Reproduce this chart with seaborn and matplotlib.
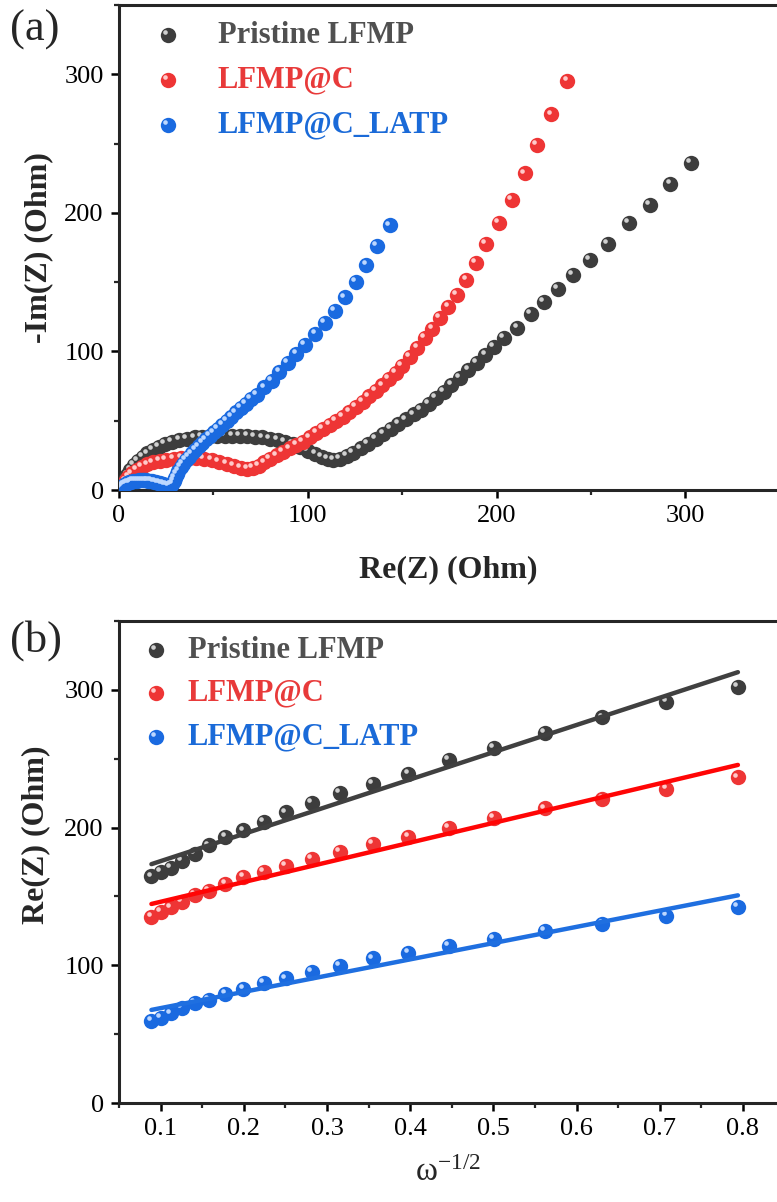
import numpy as np
import matplotlib
matplotlib.use("Agg")
import matplotlib.pyplot as plt
import seaborn as sns
from matplotlib.transforms import offset_copy
from matplotlib.ticker import MultipleLocator

# ---------------- data ----------------
labels = ["Pristine LFMP", "LFMP@C", "LFMP@C_LATP"]

# Panel (a): Nyquist plot, Re(Z) and -Im(Z) in Ohm
pristine_re = [1, 2, 3, 4.5, 6, 8, 10, 12.5, 15, 18, 21, 24.5, 28, 32, 36, 40, 44, 48, 52, 56,
               60, 64, 68, 72, 76, 80, 84, 88, 92, 96, 100, 104, 107.5, 110.5, 113.5, 117,
               120.5, 124, 128, 132, 136, 140, 144, 148, 152, 156, 160, 164, 168, 172, 176,
               180.5, 185, 189.5, 194, 198.5, 204, 211, 218, 225, 232.5, 240.5, 249.5, 259,
               270, 281, 292, 303]
pristine_im = [1, 4, 7.5, 11, 14.5, 18, 21, 24, 26.5, 29, 31, 33, 34.5, 36, 37, 38, 38.5, 39,
               39.2, 39.3, 39.3, 39.2, 39, 38.5, 38, 37, 36, 34.5, 33, 31, 28.5, 26, 24, 22.5,
               22, 22.5, 24.5, 27, 30, 33.5, 37, 40.5, 44, 47.5, 51, 54.5, 58, 62, 66.5, 71,
               76, 81, 86.5, 92, 97.5, 103, 109.5, 117, 127, 136, 145, 155, 166, 177.5,
               192.5, 205.5, 221, 236]

lfmpc_re = [1, 2, 3.5, 5, 7, 9.5, 12, 15, 18, 21.5, 25, 29, 33, 37, 41, 45, 49, 53, 57, 61,
            64.5, 68, 71, 74, 77, 80, 83.5, 87, 90.5, 94, 97.5, 101, 104.5, 108, 111.5, 115,
            118.5, 122, 125.5, 129, 132.5, 136, 139.5, 143, 146.5, 150, 154, 158, 162, 166,
            170, 174.5, 179, 184, 189, 194.5, 201, 208, 215, 221.5, 229, 237.5]
lfmpc_im = [1.5, 4, 7, 9.5, 12, 14.5, 16.5, 18.5, 20, 21.2, 22, 22.6, 23, 23, 22.8, 22.3,
            21.5, 20.5, 19, 17.5, 16.2, 15.5, 15.8, 17.5, 20, 22.5, 25, 27.5, 30, 32.5, 35,
            38, 41, 44, 47, 50, 53, 56.5, 60, 63.5, 67.5, 71.5, 75.5, 80, 84.5, 89.5, 96,
            102.5, 109.5, 116.5, 124, 132, 141, 151.5, 164, 177.5, 192.5, 209.5, 228.5, 249,
            271, 295]

latp_re = [0.5, 1.5, 2.5, 3.5, 4.5, 5.5, 6.5, 7.5, 8.5, 9.5, 10.5, 11.5, 12.5, 13.5, 14.5,
           15.5, 16.5, 17.5, 18.5, 19.5, 20.5, 21.5, 22.5, 23.5, 24.5, 25.5, 26.5, 27.5,
           28.3, 29, 29.7, 30.5, 31.5, 32.7, 34, 35.5, 37, 38.7, 40.5, 42.3, 44.2, 46.2,
           48.2, 50.3, 52.5, 54.7, 57, 59.5, 62, 64.5, 67, 70, 73, 77, 81, 85, 89.5, 94,
           98.5, 104, 109, 114.5, 119.5, 125.5, 131, 136.5, 143.5]
latp_im = [1, 2.5, 3.5, 4.3, 5, 5.5, 6, 6.3, 6.6, 6.8, 7, 7, 7, 7, 6.9, 6.8, 6.6, 6.4, 6.1,
           5.8, 5.4, 5, 4.6, 4.2, 3.9, 3.6, 3.4, 3.5, 4.5, 6.5, 9, 11.5, 14, 16.5, 19, 21.5,
           24, 26.5, 29, 31.5, 34, 36.5, 39, 41.5, 44, 47, 50, 53, 56, 59, 62, 65.5, 68.5,
           74, 79, 85, 91.5, 98, 104.5, 112.5, 120.5, 129, 139, 150, 162.5, 176, 191]

# Panel (b): Re(Z) vs omega^-1/2
omega_inv_sqrt = [0.089, 0.100, 0.112, 0.126, 0.141, 0.158, 0.178, 0.1995, 0.224, 0.251,
                  0.282, 0.316, 0.355, 0.398, 0.447, 0.501, 0.562, 0.631, 0.708, 0.794]
pristine_rez = [164.5, 168, 171, 176, 181, 187, 193, 198, 204, 211, 218, 225, 232, 239,
                249, 258, 269, 280, 291, 302]
lfmpc_rez = [135, 138.5, 142, 146, 151, 154, 159, 164, 168, 172, 177, 182.5, 188, 193.5,
             200, 207, 214, 221, 228, 236.5]
latp_rez = [59.5, 62, 65, 69, 72.5, 75, 79, 83, 87, 90.5, 95, 99.5, 105, 109, 114, 119,
            125, 130, 136, 142.5]

# ---------------- style ----------------
base_colors = ["#3d3d3d", "#ee3535", "#1a6ae0"]
high_colors = ["#d0d0d0", "#ffcaca", "#bcd7ff"]
text_colors = ["#505050", "#e83a3a", "#1a6ad8"]
line_colors = ["#404040", "#ff0505", "#1f6fe0"]

sns.set_theme(style="ticks")
plt.rcParams["font.family"] = ["Liberation Serif", "DejaVu Serif"]
plt.rcParams["mathtext.fontset"] = "custom"
plt.rcParams["mathtext.rm"] = "Liberation Serif"
plt.rcParams["mathtext.it"] = "Liberation Serif"
plt.rcParams["axes.linewidth"] = 2.2

W, H = 777, 1202
fig = plt.figure(figsize=(W / 100, H / 100), dpi=100)
axA = fig.add_axes([119 / W, 1 - 490 / H, 658 / W, 485 / H])
axB = fig.add_axes([119 / W, 1 - 1103 / H, 658 / W, 482 / H])

MS = 122
HS = 11


def balls(ax, x, y, i):
    sns.scatterplot(x=x, y=y, ax=ax, s=MS, color=base_colors[i], linewidth=0, zorder=3 + i)
    tr = offset_copy(ax.transData, fig=fig, x=-2.0, y=2.0, units="points")
    sns.scatterplot(x=x, y=y, ax=ax, s=HS, color=high_colors[i], linewidth=0,
                    transform=tr, zorder=3.5 + i)


def legend(ax, xm, xt, ys):
    for i, lab in enumerate(labels):
        ax.scatter([xm], [ys[i]], transform=ax.transAxes, s=MS, color=base_colors[i],
                   linewidth=0, clip_on=False, zorder=10)
        tr = offset_copy(ax.transAxes, fig=fig, x=-2.0, y=2.0, units="points")
        ax.scatter([xm], [ys[i]], transform=tr, s=HS, color=high_colors[i],
                   linewidth=0, clip_on=False, zorder=11)
        ax.text(xt, ys[i], lab, transform=ax.transAxes, color=text_colors[i],
                fontsize=22, fontweight="bold", va="center", ha="left")


# Panel (a)
for i, (xs, ys) in enumerate([(pristine_re, pristine_im), (lfmpc_re, lfmpc_im),
                              (latp_re, latp_im)]):
    balls(axA, xs, ys, i)

# Panel (b)
for i, ys in enumerate([pristine_rez, lfmpc_rez, latp_rez]):
    balls(axB, omega_inv_sqrt, ys, i)
for i, ys in enumerate([pristine_rez, lfmpc_rez, latp_rez]):
    sns.regplot(x=omega_inv_sqrt, y=ys, ax=axB, scatter=False, ci=None,
                color=line_colors[i], line_kws={"lw": 3.2, "zorder": 8})

axA.set_xlim(0, 348.5)
axA.set_ylim(0, 350)
axB.set_xlim(0.05, 0.841)
axB.set_ylim(0, 350)

axA.xaxis.set_major_locator(MultipleLocator(100))
axA.xaxis.set_minor_locator(MultipleLocator(50))
axA.yaxis.set_major_locator(MultipleLocator(100))
axA.yaxis.set_minor_locator(MultipleLocator(50))
axB.xaxis.set_major_locator(MultipleLocator(0.1))
axB.xaxis.set_minor_locator(MultipleLocator(0.05))
axB.yaxis.set_major_locator(MultipleLocator(100))
axB.yaxis.set_minor_locator(MultipleLocator(50))
axB.xaxis.set_major_formatter(matplotlib.ticker.FuncFormatter(lambda v, p: f"{v:.1f}"))

for ax in (axA, axB):
    ax.spines["right"].set_visible(False)
    ax.spines["top"].set_visible(True)
    ax.tick_params(which="major", direction="out", length=6, width=1.8,
                   labelsize=19, pad=5, colors="black")
    ax.tick_params(which="minor", direction="out", length=3.5, width=1.6)
    ax.tick_params(top=False, right=False, which="both")

axA.set_xlabel("Re(Z) (Ohm)", fontsize=23, fontweight="bold")
axA.set_ylabel("-Im(Z) (Ohm)", fontsize=23, fontweight="bold")
axA.xaxis.set_label_coords(0.5, -0.135)
axA.yaxis.set_label_coords(-0.10, 0.5)

axB.set_xlabel(r"$\mathregular{\omega^{-1/2}}$", fontsize=24)
axB.set_ylabel("Re(Z) (Ohm)", fontsize=23, fontweight="bold")
axB.xaxis.set_label_coords(0.5, -0.112)
axB.yaxis.set_label_coords(-0.105, 0.556)

legend(axA, 49 / 658, 99 / 658, [(490 - 35) / 485, (490 - 80) / 485, (490 - 125) / 485])
legend(axB, 37 / 658, 69 / 658, [(1103 - 650) / 482, (1103 - 693) / 482, (1103 - 737) / 482])

fig.text(10 / W, 1 - 30 / H, "(a)", fontsize=32, ha="left", va="center")
fig.text(10 / W, 1 - 641 / H, "(b)", fontsize=32, ha="left", va="center")

fig.savefig("out.png", dpi=100, facecolor="white")
